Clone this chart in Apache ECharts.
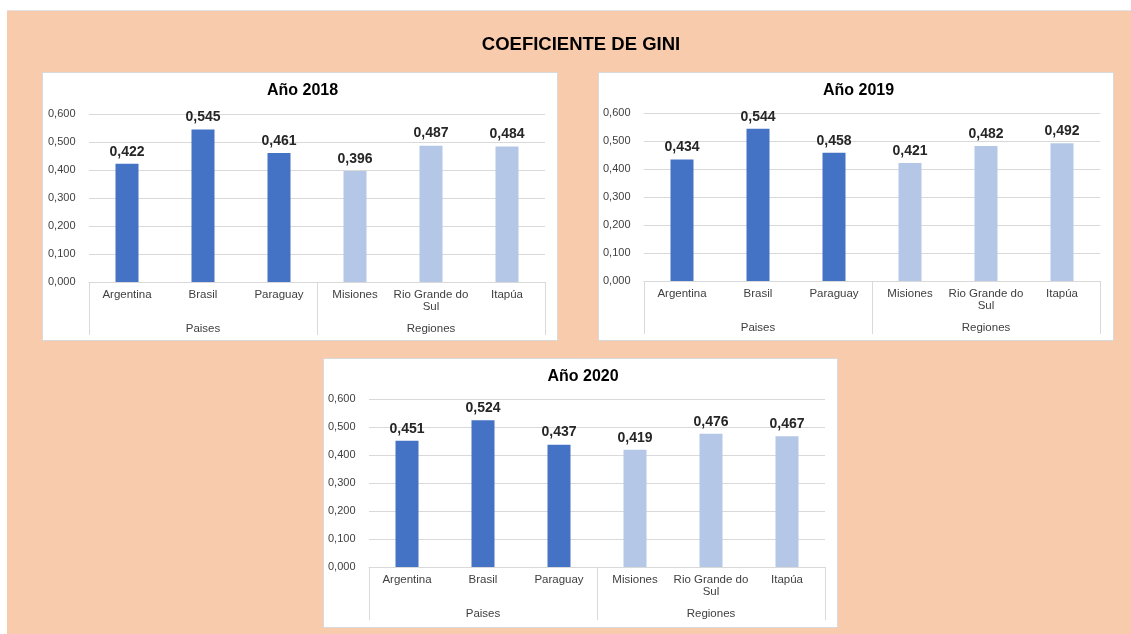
<!DOCTYPE html>
<html style="height: 100%">
<head>
    <meta charset="utf-8">
    <script src="https://cdn.jsdelivr.net/npm/echarts@6/dist/echarts.min.js"></script>
</head>
<body style="height: 100%; margin: 0; background: #fff">
<div id="container" style="width: 1131px; height: 634px"></div>
<script type="text/javascript">
// datos
const categories = ['Argentina', 'Brasil', 'Paraguay', 'Misiones', 'Rio Grande do Sul', 'Itapúa'];
const groups = ['Paises', 'Regiones'];
const groupOfCategory = ['Paises', 'Paises', 'Paises', 'Regiones', 'Regiones', 'Regiones'];
const years = ['Año 2018', 'Año 2019', 'Año 2020'];
const gini2018 = [0.422, 0.545, 0.461, 0.396, 0.487, 0.484];
const gini2019 = [0.434, 0.544, 0.458, 0.421, 0.482, 0.492];
const gini2020 = [0.451, 0.524, 0.437, 0.419, 0.476, 0.467];
const yTicks = [0, 0.1, 0.2, 0.3, 0.4, 0.5, 0.6];

const dom = document.getElementById('container');
const myChart = echarts.init(dom);

const font = 'Liberation Sans, Arial, sans-serif';
const dark = '#4472C4';
const light = '#B4C7E7';
const gridColor = '#D9D9D9';

// panel boxes and plot areas (px)
const panels = [
    {x: 42, y: 72, w: 515, h: 268, grid: {left: 89, top: 114, width: 456, height: 168}},
    {x: 598, y: 72, w: 515, h: 268, grid: {left: 644, top: 113, width: 456, height: 168}},
    {x: 323, y: 358, w: 514, h: 269, grid: {left: 369, top: 399, width: 456, height: 168}}
];
const seriesData = [gini2018, gini2019, gini2020];

const fmt = function (v) {
    return v.toFixed(3).replace('.', ',');
};

const elements = [
    {type: 'rect', shape: {x: 7, y: 10, width: 1124, height: 624}, style: {fill: '#F8CBAD'}, silent: true},
    {type: 'line', shape: {x1: 7, y1: 10.5, x2: 1131, y2: 10.5}, style: {stroke: '#E2E2E2', lineWidth: 1}, silent: true}
];
const titles = [{
    text: 'COEFICIENTE DE GINI',
    left: 576, top: 30, textAlign: 'center',
    textStyle: {fontFamily: font, fontSize: 18.5, fontWeight: 'bold', color: '#000'}
}];
const grids = [], xAxes = [], yAxes = [], series = [];

panels.forEach(function (p, i) {
    elements.push({
        type: 'rect',
        shape: {x: p.x + 0.5, y: p.y + 0.5, width: p.w, height: p.h},
        style: {fill: '#fff', stroke: '#D9D9D9', lineWidth: 1},
        silent: true
    });
    titles.push({
        text: years[i],
        left: p.x + p.w / 2 - 2, top: p.y + 6, textAlign: 'center',
        textStyle: {fontFamily: font, fontSize: 16, fontWeight: 'bold', color: '#000'}
    });
    grids.push(p.grid);
    xAxes.push({
        type: 'category', gridIndex: i, data: categories,
        axisLine: {lineStyle: {color: gridColor}},
        axisTick: {show: false},
        axisLabel: {
            interval: 0, margin: 7, color: '#404040', fontFamily: font, fontSize: 11.5, lineHeight: 12,
            formatter: function (v) { return v.replace(' do Sul', ' do\nSul'); }
        }
    });
    xAxes.push({
        type: 'category', gridIndex: i, position: 'bottom', data: groups,
        axisLine: {show: false},
        axisTick: {show: true, length: 53, lineStyle: {color: gridColor}},
        axisLabel: {margin: 41, color: '#404040', fontFamily: font, fontSize: 11.5}
    });
    yAxes.push({
        type: 'value', gridIndex: i, min: yTicks[0], max: yTicks[yTicks.length - 1], interval: 0.1,
        axisLine: {show: false}, axisTick: {show: false},
        splitLine: {lineStyle: {color: gridColor}},
        axisLabel: {formatter: fmt, color: '#404040', fontFamily: font, fontSize: 11, margin: 41, align: 'left'}
    });
    series.push({
        type: 'bar', xAxisIndex: i * 2, yAxisIndex: i,
        data: seriesData[i],
        barWidth: 23,
        itemStyle: {
            color: function (params) {
                return groupOfCategory[params.dataIndex] === groups[0] ? dark : light;
            }
        },
        label: {
            show: true, position: 'top', distance: 5,
            formatter: function (params) { return fmt(params.value); },
            fontFamily: font, fontSize: 14, fontWeight: 'bold', color: '#262626'
        }
    });
});

option = {
    animation: false,
    title: titles,
    graphic: {elements: elements},
    grid: grids,
    xAxis: xAxes,
    yAxis: yAxes,
    series: series
};

if (option && typeof option === "object") {
    myChart.setOption(option, true);
}
</script>
</body>
</html>
